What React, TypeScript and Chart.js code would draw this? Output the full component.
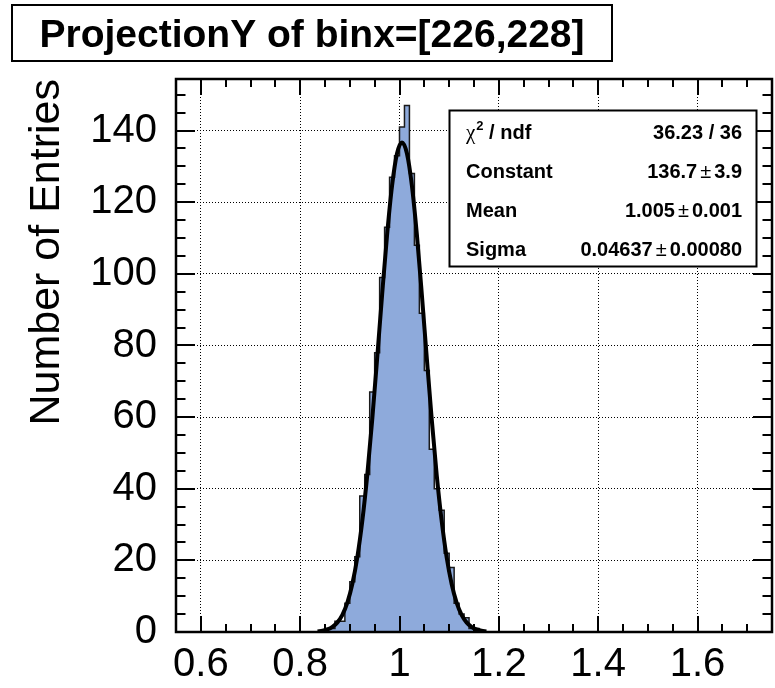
import React, { useEffect, useRef } from 'react';
import { Chart, registerables } from 'chart.js';

Chart.register(...registerables);

const FONT = '"Liberation Sans", Arial, Helvetica, sans-serif';

const chartTitle = 'ProjectionY of binx=[226,228]';
const yAxisTitle = 'Number of Entries';

// histogram: lower bin edges and entries
const binWidth = 0.01;
const binLowEdges = [
  0.84, 0.85, 0.86, 0.87, 0.88, 0.89, 0.9, 0.91, 0.92, 0.93, 0.94,
  0.95, 0.96, 0.97, 0.98, 0.99, 1.0, 1.01, 1.02, 1.03, 1.04, 1.05,
  1.06, 1.07, 1.08, 1.09, 1.1, 1.11, 1.12, 1.13, 1.14, 1.15, 1.16,
];
const binCounts = [
  0, 1, 1, 3, 3, 8, 14, 21, 38, 44, 67,
  78, 99, 113, 127, 133, 141, 147, 128, 108, 89, 73,
  51, 40, 34, 22, 18, 8, 5, 4, 1, 1, 0,
];

// fitted gaussian curve, sampled
const fitX = [
  0.835, 0.845, 0.855, 0.865, 0.875, 0.885, 0.895, 0.905, 0.915, 0.925,
  0.935, 0.945, 0.955, 0.965, 0.975, 0.985, 0.995, 1.005, 1.015, 1.025,
  1.035, 1.045, 1.055, 1.065, 1.075, 1.085, 1.095, 1.105, 1.115, 1.125,
  1.135, 1.145, 1.155, 1.165, 1.175,
];
const fitY = [
  0.17, 0.36, 0.73, 1.43, 2.69, 4.8, 8.2, 13.4, 20.8, 30.9,
  43.7, 59.2, 76.4, 94.2, 110.9, 124.6, 133.6, 136.7, 133.6, 124.6,
  110.9, 94.2, 76.4, 59.2, 43.7, 30.9, 20.8, 13.4, 8.2, 4.8,
  2.69, 1.43, 0.73, 0.36, 0.17,
];

// axes
const xTicks = [0.6, 0.8, 1.0, 1.2, 1.4, 1.6];
const yTicks = [0, 20, 40, 60, 80, 100, 120, 140];
const X_MIN = 0.55;
const X_MAX = 1.75;
const Y_MIN = 0;
const Y_MAX = 154.4;
const X_MINOR_STEP = 0.05;
const Y_MINOR_STEP = 5;

// stats box
const statNames = ['ndf', 'Constant', 'Mean', 'Sigma'];
const statValues = ['36.23 / 36', '136.7', '1.005', '0.04637'];
const statErrors = ['', '3.9', '0.001', '0.00080'];

const fmt = (v: number) => String(Math.round(v * 100) / 100);

const backgroundPlugin = {
  id: 'bg',
  beforeDraw(chart: any) {
    const ctx = chart.ctx;
    ctx.save();
    ctx.fillStyle = '#ffffff';
    ctx.fillRect(0, 0, chart.width, chart.height);
    ctx.restore();
  },
};

const framePlugin = {
  id: 'frame',
  afterDatasetsDraw(chart: any) {
    const ctx = chart.ctx;
    const { left, right, top, bottom } = chart.chartArea;
    const xs = chart.scales.x;
    const ys = chart.scales.y;
    ctx.save();
    ctx.strokeStyle = '#000';
    ctx.lineWidth = 2;
    ctx.beginPath();
    const nx0 = Math.ceil(X_MIN / X_MINOR_STEP - 1e-6);
    const nx1 = Math.floor(X_MAX / X_MINOR_STEP + 1e-6);
    for (let k = nx0; k <= nx1; k++) {
      const v = k * X_MINOR_STEP;
      const major = xTicks.some((t) => Math.abs(t - v) < 1e-6);
      const len = major ? 16 : 8;
      const px = Math.round(xs.getPixelForValue(v));
      ctx.moveTo(px, bottom);
      ctx.lineTo(px, bottom - len);
      ctx.moveTo(px, top);
      ctx.lineTo(px, top + len);
    }
    const ny1 = Math.floor(Y_MAX / Y_MINOR_STEP + 1e-6);
    for (let k = 0; k <= ny1; k++) {
      const v = k * Y_MINOR_STEP;
      const major = yTicks.some((t) => Math.abs(t - v) < 1e-6);
      const len = major ? 19 : 9.5;
      const py = Math.round(ys.getPixelForValue(v));
      ctx.moveTo(left, py);
      ctx.lineTo(left + len, py);
      ctx.moveTo(right, py);
      ctx.lineTo(right - len, py);
    }
    ctx.stroke();
    ctx.lineWidth = 2.5;
    ctx.strokeRect(left, top, right - left, bottom - top);
    ctx.restore();
  },
};

const boxesPlugin = {
  id: 'boxes',
  afterDraw(chart: any) {
    const ctx = chart.ctx;
    ctx.save();
    // title box
    ctx.fillStyle = '#fff';
    ctx.strokeStyle = '#000';
    ctx.lineWidth = 2;
    ctx.fillRect(12, 5, 600, 56);
    ctx.strokeRect(12, 5, 600, 56);
    ctx.fillStyle = '#000';
    ctx.font = `bold 39px ${FONT}`;
    ctx.textAlign = 'center';
    ctx.textBaseline = 'alphabetic';
    ctx.fillText(chartTitle, 312, 47);

    // stats box
    const bx = 449.5, by = 110.5, bw = 307, bh = 156;
    ctx.fillStyle = '#fff';
    ctx.fillRect(bx, by, bw, bh);
    ctx.strokeStyle = '#000';
    ctx.lineWidth = 2;
    ctx.strokeRect(bx, by, bw, bh);
    ctx.fillStyle = '#000';
    const lx = 466;
    const rx = 742;
    const baselines = [138.5, 177.5, 216.5, 255.5];
    const bold = `bold 20px ${FONT}`;
    const reg = `20px ${FONT}`;
    statNames.forEach((name, i) => {
      const yb = baselines[i];
      ctx.textAlign = 'left';
      if (i === 0) {
        ctx.font = `21px "Liberation Serif", serif`;
        ctx.fillText('χ', lx, yb);
        let x = lx + ctx.measureText('χ').width + 1;
        ctx.font = `bold 13px ${FONT}`;
        ctx.fillText('2', x, yb - 9);
        x += ctx.measureText('2').width;
        ctx.font = bold;
        ctx.fillText(' / ' + name, x, yb);
      } else {
        ctx.font = bold;
        ctx.fillText(name, lx, yb);
      }
      ctx.textAlign = 'right';
      if (!statErrors[i]) {
        ctx.font = bold;
        ctx.fillText(statValues[i], rx, yb);
      } else {
        let x = rx;
        ctx.font = bold;
        ctx.fillText(statErrors[i], x, yb);
        x -= ctx.measureText(statErrors[i]).width + 3;
        ctx.font = reg;
        ctx.fillText('±', x, yb);
        x -= ctx.measureText('±').width + 3;
        ctx.font = bold;
        ctx.fillText(statValues[i], x, yb);
      }
    });
    ctx.restore();
  },
};

export default function App() {
  const ref = useRef<HTMLCanvasElement>(null);

  useEffect(() => {
    const canvas = ref.current;
    if (!canvas) return;
    const histData = binLowEdges.map((x, i) => ({ x, y: binCounts[i] }));
    histData.push({ x: binLowEdges[binLowEdges.length - 1] + binWidth, y: 0 });
    const fitData = fitX.map((x, i) => ({ x, y: fitY[i] }));

    const chart = new Chart(canvas, {
      type: 'line',
      data: {
        datasets: [
          {
            label: 'gaus fit',
            data: fitData,
            borderColor: '#000',
            borderWidth: 4,
            pointRadius: 0,
            cubicInterpolationMode: 'monotone',
            fill: false,
            order: 0,
          } as any,
          {
            label: 'ProjectionY',
            data: histData,
            stepped: 'before',
            borderColor: '#1a1a1a',
            borderWidth: 1.5,
            backgroundColor: 'rgb(142,170,219)',
            fill: 'origin',
            pointRadius: 0,
            order: 1,
          } as any,
        ],
      },
      options: {
        animation: false,
        responsive: false,
        devicePixelRatio: 1,
        layout: { padding: { top: 79, right: 3, left: 0, bottom: 0 } },
        plugins: {
          legend: { display: false },
          tooltip: { enabled: false },
          title: { display: false },
        },
        scales: {
          x: {
            type: 'linear',
            min: X_MIN,
            max: X_MAX,
            afterBuildTicks: (s: any) => {
              s.ticks = xTicks.map((value) => ({ value }));
            },
            afterFit: (s: any) => {
              s.height = 56;
            },
            ticks: {
              color: '#000',
              font: { family: FONT, size: 40 },
              padding: 9,
              maxRotation: 0,
              autoSkip: false,
              callback: (v: any) => fmt(Number(v)),
            },
            grid: { color: '#000', lineWidth: 1, drawTicks: false },
            border: { display: false, dash: [1, 2] },
          },
          y: {
            type: 'linear',
            min: Y_MIN,
            max: Y_MAX,
            afterBuildTicks: (s: any) => {
              s.ticks = yTicks.map((value) => ({ value }));
            },
            afterFit: (s: any) => {
              s.width = 176;
            },
            ticks: {
              color: '#000',
              font: { family: FONT, size: 40 },
              padding: 19,
              autoSkip: false,
              callback: (v: any) => fmt(Number(v)),
            },
            grid: { color: '#000', lineWidth: 1, drawTicks: false },
            border: { display: false, dash: [1, 2] },
            title: {
              display: true,
              text: yAxisTitle,
              align: 'end',
              color: '#000',
              font: { family: FONT, size: 43 },
              padding: { top: 21, bottom: 0 },
            },
          },
        },
      } as any,
      plugins: [backgroundPlugin, framePlugin, boxesPlugin],
    });
    return () => chart.destroy();
  }, []);

  return (
    <div style={{ position: 'fixed', left: 0, top: 0, width: 775, height: 688, background: '#fff' }}>
      <canvas ref={ref} width={775} height={688} style={{ display: 'block' }} />
    </div>
  );
}
